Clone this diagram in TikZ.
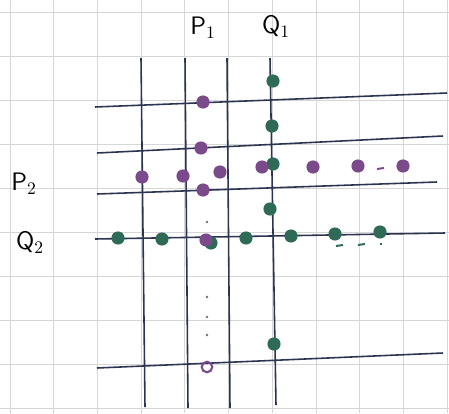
\documentclass[tikz,border=0pt]{standalone}
\usepackage{tikz}
\usetikzlibrary{positioning,calc}
\definecolor{ink}{HTML}{2B3552}
\definecolor{plum}{HTML}{7A4A8A}
\definecolor{pine}{HTML}{2F6A57}
\definecolor{paper}{HTML}{D6D6D6}

\begin{document}
\begin{tikzpicture}[
      x=0.02cm, y=-0.02cm,
      every node/.style={font=\Large},
      pen/.style={draw=ink, line width=0.9pt},
      pdot/.style={circle, fill=plum, inner sep=0pt, minimum size=7.5pt},
      gdot/.style={circle, fill=pine, inner sep=0pt, minimum size=7.5pt},
      tick/.style={draw=#1, line width=1.1pt},
    ]
    \useasboundingbox (0,0) rectangle (449,413);
    \fill[white] (0,0) rectangle (449,413);

    % squared paper
    \foreach \gx in {10,53.7,...,449} \draw[paper, line width=0.4pt] (\gx,0) -- (\gx,413);
    \foreach \gy in {12,56,...,413} \draw[paper, line width=0.4pt] (0,\gy) -- (449,\gy);

    % vertical lines (the last one is Q_1)
    \coordinate (v1t) at (141,58);  \coordinate (v1b) at (145,407);
    \coordinate (v2t) at (185,58);  \coordinate (v2b) at (188,408);
    \coordinate (v3t) at (227,58);  \coordinate (v3b) at (230,408);
    \coordinate (q1t) at (270,58);  \coordinate (q1b) at (276,405);
    \draw[pen] (v1t) -- (v1b);
    \draw[pen] (v2t) -- (v2b);
    \draw[pen] (v3t) -- (v3b);
    \draw[pen] (q1t) -- (q1b);

    % horizontal lines (the fourth one is Q_2)
    \coordinate (h1l) at (95,107);  \coordinate (h1r) at (447,93);
    \coordinate (h2l) at (97,153);  \coordinate (h2r) at (443,136);
    \coordinate (h3l) at (97,194);  \coordinate (h3r) at (437,182);
    \coordinate (q2l) at (95,239);  \coordinate (q2r) at (445,233);
    \coordinate (h5l) at (97,368);  \coordinate (h5r) at (443,353);
    \draw[pen] (h1l) -- (h1r);
    \draw[pen] (h2l) -- (h2r);
    \draw[pen] (h3l) -- (h3r);
    \draw[pen] (q2l) -- (q2r);
    \draw[pen] (h5l) -- (h5r);

    % labels
    \node (lp1) at (203,28) {$\mathsf{P}_1$};
    \node (lq1) at (276,27) {$\mathsf{Q}_1$};
    \node (lp2) at (24,184) {$\mathsf{P}_2$};
    \node (lq2) at (30,243) {$\mathsf{Q}_2$};

    % green dots on Q_1 and Q_2
    \node[gdot] (g1) at (273,81)  {};
    \node[gdot] (g2) at (272,126) {};
    \node[gdot] (g3) at (273,164) {};
    \node[gdot] (g4) at (270,209) {};
    \node[gdot] (g5) at (274,344) {};
    \node[gdot] (g6) at (118,238) {};
    \node[gdot] (g7) at (162,239) {};
    \node[gdot] (g8) at (211,243) {};
    \node[gdot] (g9) at (246,238) {};
    \node[gdot] (g10) at (291,236) {};
    \node[gdot] (g11) at (335,234) {};
    \node[gdot] (g12) at (380,232) {};

    % purple dots on P_1 and P_2
    \node[pdot] (p1) at (203,102) {};
    \node[pdot] (p2) at (201,148) {};
    \node[pdot] (p3) at (203,190) {};
    \node[pdot] (p4) at (206,240) {};
    \node[circle, draw=plum, line width=1.2pt, inner sep=0pt, minimum size=6pt] (p5) at (207,367) {};
    \node[pdot] (p6) at (142,177) {};
    \node[pdot] (p7) at (183,176) {};
    \node[pdot] (p8) at (220,172) {};
    \node[pdot] (p9) at (262,167) {};
    \node[pdot] (p10) at (313,167) {};
    \node[pdot] (p11) at (358,166) {};
    \node[pdot] (p12) at (403,166) {};

    % ellipses
    \draw[tick=plum] (377,169) -- (384,168);
    \draw[tick=pine] (336,246) -- (343,245);
    \draw[tick=pine] (358,245) -- (365,244);
    \draw[tick=pine] (380,244) -- (382,244);
    \foreach \dy in {222,297,317,335}
      \fill[ink!70] (207,\dy) circle (0.8pt);
  \end{tikzpicture}
\end{document}
